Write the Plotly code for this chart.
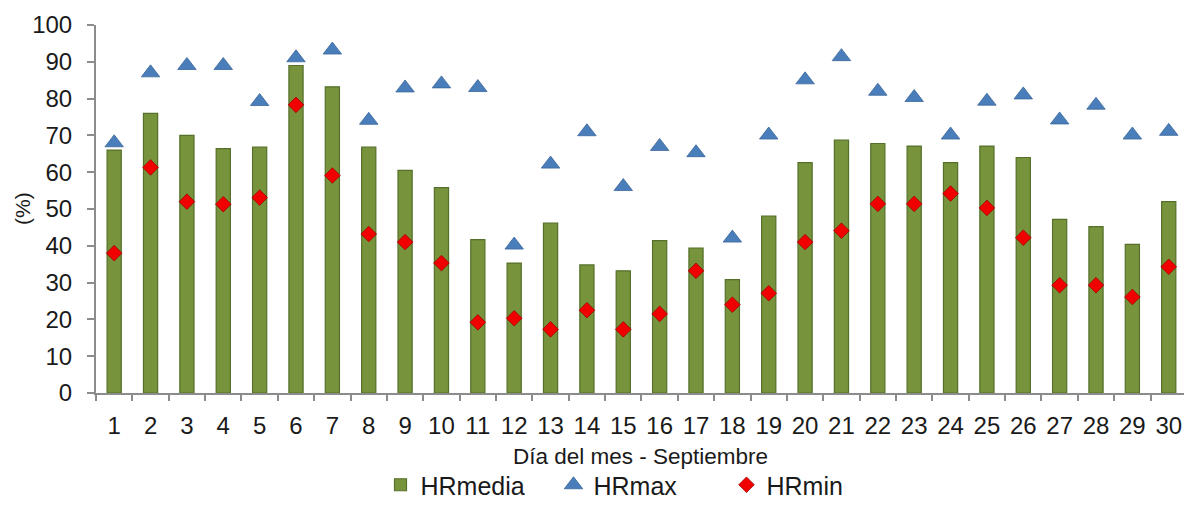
import plotly.graph_objects as go

days = [str(d) for d in range(1, 31)]
hr_media = [66, 76, 70, 66.4, 66.8, 89, 83.2, 66.8, 60.5, 55.8,
            41.7, 35.3, 46.2, 34.8, 33.2, 41.4, 39.4, 30.8, 48.1, 62.6,
            68.7, 67.8, 67.1, 62.6, 67.1, 64, 47.2, 45.2, 40.4, 52]
hr_max = [68, 87, 89, 89, 79.2, 91.1, 93.2, 74.1, 82.9, 84,
          83, 40.2, 62.2, 71, 56.1, 67, 65.3, 42.1, 70.1, 85.1,
          91.4, 82, 80.3, 70.1, 79.3, 81, 74.2, 78.2, 70.1, 71.1]
hr_min = [38, 61.3, 52, 51.3, 53.1, 78.3, 59.1, 43.2, 41, 35.3,
          19.2, 20.3, 17.3, 22.5, 17.3, 21.5, 33.2, 24, 27.1, 41,
          44.1, 51.4, 51.4, 54.2, 50.3, 42.2, 29.3, 29.3, 26.1, 34.3]

y_ticks = list(range(0, 101, 10))

text_col = "#1a1a1a"
axis_col = "#8c8c8c"

fig = go.Figure()
fig.add_trace(go.Bar(
    x=days, y=hr_media, name="HRmedia", width=0.39,
    marker=dict(color="#77933C", line=dict(color="#55702A", width=1.2)),
))
fig.add_trace(go.Scatter(
    x=days, y=hr_max, name="HRmax", mode="markers",
    marker=dict(symbol="triangle-up", size=16, color="#4A7EBB",
                line=dict(color="#3A6699", width=0.8)),
))
fig.add_trace(go.Scatter(
    x=days, y=hr_min, name="HRmin", mode="markers",
    marker=dict(symbol="diamond", size=12, color="#F00000",
                line=dict(color="#A00000", width=0.8)),
))

fig.update_layout(
    width=1184, height=508,
    margin=dict(l=96, r=0, t=25, b=107),
    plot_bgcolor="white", paper_bgcolor="white",
    font=dict(family="Liberation Sans, Arial, sans-serif", color=text_col),
    bargap=0.6,
    showlegend=True,
    legend=dict(orientation="h", x=0.5, xanchor="center", y=-0.25, yanchor="middle",
                font=dict(size=25, color=text_col), itemwidth=30,
                entrywidth=128, entrywidthmode="pixels",
                bgcolor="rgba(0,0,0,0)"),
    xaxis=dict(
        type="category", range=[-0.5, 29.42], automargin=False,
        showline=True, linecolor=axis_col, linewidth=2,
        ticks="outside", tickson="boundaries", ticklen=6, tickwidth=1.5,
        tickcolor=axis_col, showgrid=False, zeroline=False,
        tickfont=dict(size=24, color=text_col),
        ticklabelstandoff=10,
    ),
    yaxis=dict(
        range=[0, 100], tickvals=y_ticks, automargin=False,
        showline=True, linecolor=axis_col, linewidth=2,
        ticks="outside", ticklen=7, tickwidth=1.5, tickcolor=axis_col,
        showgrid=False, zeroline=False,
        tickfont=dict(size=24, color=text_col),
        ticklabelstandoff=10,
    ),
    annotations=[
        dict(text="Día del mes - Septiembre", xref="paper", yref="paper",
             x=0.5, y=-0.172, xanchor="center", yanchor="middle",
             showarrow=False, font=dict(size=22.5, color=text_col)),
        dict(text="(%)", xref="paper", yref="paper", textangle=-90,
             x=-0.068, y=0.5, xanchor="center", yanchor="middle",
             showarrow=False, font=dict(size=21, color=text_col)),
    ],
)

fig.write_html(
    "out.html",
    config={"displayModeBar": False},
    post_script="document.body.style.margin='0';"
                "document.documentElement.style.overflow='hidden';",
)
